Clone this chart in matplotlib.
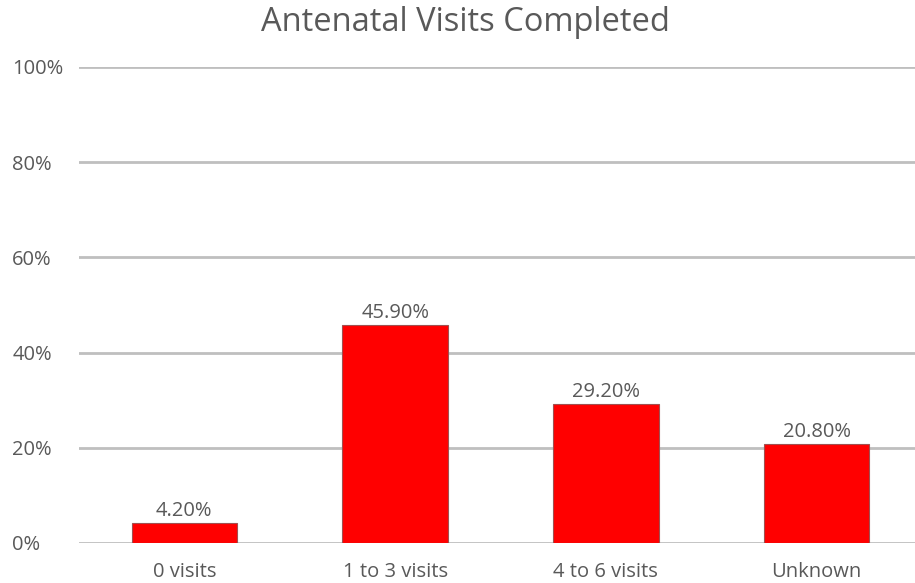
import matplotlib.pyplot as plt
from matplotlib.ticker import FuncFormatter

# data
categories = ["0 visits", "1 to 3 visits", "4 to 6 visits", "Unknown"]
values = [4.2, 45.9, 29.2, 20.8]
yticks = [0, 20, 40, 60, 80, 100]

plt.rcParams['font.family'] = ['Open Sans', 'DejaVu Sans']
text_color = '#595959'

fig = plt.figure(figsize=(9.15, 5.83), dpi=100)
# plot area runs a little past the right edge of the image
ax = fig.add_axes([79 / 915, 1 - 543 / 583, (922 - 79) / 915, (543 - 67) / 583])

x = range(len(categories))
bars = ax.bar(x, values, width=0.5, color='#ff0000', edgecolor='#a05050', linewidth=0.8, zorder=3)

for b, v in zip(bars, values):
    ax.text(b.get_x() + b.get_width() / 2, v + 0.4, f"{v:.2f}%",
            ha='center', va='bottom', fontsize=14.5, color=text_color)

ax.set_xlim(-0.5, len(categories) - 0.5)
ax.set_ylim(0, 100)
ax.set_yticks(yticks)
ax.yaxis.set_major_formatter(FuncFormatter(lambda v, p: f"{v:.0f}%"))
ax.set_xticks(list(x))
ax.set_xticklabels(categories)
ax.tick_params(axis='both', length=0, labelsize=14.5, colors=text_color)
ax.tick_params(axis='y', pad=48)
ax.tick_params(axis='x', pad=14)
for lbl in ax.get_yticklabels():
    lbl.set_horizontalalignment('left')

ax.grid(axis='y', color='#bfbfbf', linewidth=2, zorder=0)
for s in ax.spines.values():
    s.set_visible(False)

fig.text(0.509, 0.962, "Antenatal Visits Completed", ha='center', va='center',
         fontsize=23.5, color=text_color)

fig.savefig("out.png", dpi=100)
